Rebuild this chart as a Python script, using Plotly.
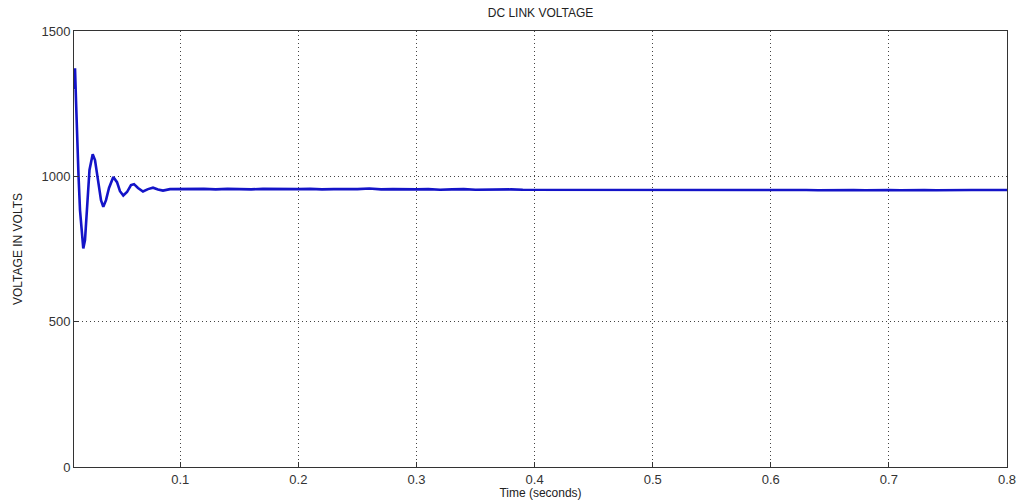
import plotly.graph_objects as go

# Time (s) and DC link voltage (V)
time_transient = [0.0102, 0.01085, 0.01169, 0.01254, 0.01381, 0.01508, 0.01677, 0.01787,
                  0.01931, 0.02101, 0.02312, 0.02583, 0.02778, 0.03032, 0.03286, 0.03481,
                  0.03710, 0.03964, 0.04328, 0.04641, 0.04895, 0.05174, 0.05488, 0.05826,
                  0.06080, 0.06419, 0.06842, 0.07266, 0.07689, 0.08112, 0.08536, 0.09129]
volt_transient = [1300, 1372, 1262, 1125, 1004, 884, 781, 752,
                  781, 884, 1022, 1076, 1056, 987, 918, 895,
                  918, 960, 998, 980, 949, 934, 946, 970,
                  973, 960, 948, 956, 961, 955, 951, 956]

time_steady = [0.10, 0.11, 0.12, 0.13, 0.14, 0.15, 0.16, 0.17, 0.18, 0.19,
               0.20, 0.21, 0.22, 0.23, 0.24, 0.25, 0.26, 0.27, 0.28, 0.29,
               0.30, 0.31, 0.32, 0.33, 0.34, 0.35, 0.36, 0.37, 0.38, 0.39,
               0.40, 0.41, 0.42, 0.43, 0.44, 0.45, 0.46, 0.47, 0.48, 0.49,
               0.50, 0.51, 0.52, 0.53, 0.54, 0.55, 0.56, 0.57, 0.58, 0.59,
               0.60, 0.61, 0.62, 0.63, 0.64, 0.65, 0.66, 0.67, 0.68, 0.69,
               0.70, 0.71, 0.72, 0.73, 0.74, 0.75, 0.76, 0.77, 0.78, 0.79, 0.80]
volt_steady = [957, 956, 957, 955, 957, 956, 955, 957, 956, 955,
               956, 957, 955, 956, 955, 956, 958, 955, 956, 955,
               955, 956, 954, 955, 956, 954, 955, 954, 955, 954,
               954, 955, 953, 954, 955, 953, 954, 953, 954, 953,
               953, 954, 953, 953, 954, 953, 953, 954, 953, 953,
               953, 954, 953, 953, 952, 953, 954, 953, 952, 953,
               953, 952, 953, 953, 952, 953, 952, 953, 953, 952, 953]

x_ticks = [0.1, 0.2, 0.3, 0.4, 0.5, 0.6, 0.7, 0.8]
y_ticks = [0, 500, 1000, 1500]

fig = go.Figure()
fig.add_trace(go.Scatter(
    x=time_transient + time_steady,
    y=volt_transient + volt_steady,
    mode="lines",
    line=dict(color="#1414c8", width=2.6),
    showlegend=False,
))

font = "Liberation Sans, Arial, sans-serif"
axis_common = dict(
    showline=True, linecolor="#333333", linewidth=1, mirror=True,
    ticks="inside", ticklen=5, tickcolor="#333333",
    showgrid=True, gridcolor="#444444", griddash="1px,3px", gridwidth=1,
    zeroline=False, automargin=False,
    tickfont=dict(family=font, size=13, color="#333333"),
)

fig.update_layout(
    width=1017, height=500,
    margin=dict(l=74, r=10, t=31, b=33),
    paper_bgcolor="white", plot_bgcolor="white",
    title=dict(text="DC LINK VOLTAGE", x=0.5315, xanchor="center", y=0.983, yanchor="top",
               font=dict(family=font, size=12, color="#222222")),
    xaxis=dict(range=[0.01, 0.8], tickvals=x_ticks, ticktext=[str(v) for v in x_ticks],
               title=dict(text="Time (seconds)", standoff=0,
                          font=dict(family=font, size=12, color="#222222")),
               **axis_common),
    yaxis=dict(range=[0, 1500], tickvals=y_ticks,
               title=dict(text="VOLTAGE IN VOLTS", standoff=16,
                          font=dict(family=font, size=12, color="#222222")),
               **axis_common),
)

fig.write_html("out.html")
